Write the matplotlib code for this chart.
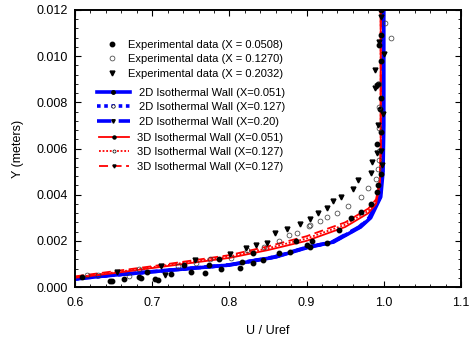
import numpy as np
import matplotlib.pyplot as plt
from matplotlib.lines import Line2D
from matplotlib.ticker import MultipleLocator

plt.rcParams['font.family'] = ['Liberation Sans', 'DejaVu Sans']

# experimental data, X = 0.0508 (filled circles)
exp1_u = [0.609, 0.645, 0.648, 0.663, 0.683, 0.686, 0.693, 0.704, 0.707, 0.725, 0.741,
          0.750, 0.769, 0.773, 0.789, 0.787, 0.814, 0.816, 0.830, 0.831, 0.844, 0.864,
          0.878, 0.886, 0.901, 0.907, 0.905, 0.927, 0.942, 0.957, 0.971, 0.983, 0.991,
          0.993, 0.996, 0.991, 0.996, 0.995, 0.997, 0.992, 0.996, 0.994, 0.996, 0.997]
exp1_y = [0.00045, 0.00025, 0.00028, 0.00035, 0.00042, 0.00038, 0.00066, 0.00035, 0.00032,
          0.00056, 0.00095, 0.00065, 0.00062, 0.00095, 0.00077, 0.00120, 0.00084, 0.00110,
          0.00106, 0.00147, 0.00117, 0.00147, 0.00153, 0.00200, 0.00180, 0.00200, 0.00175,
          0.00192, 0.00247, 0.00298, 0.00326, 0.00360, 0.00410, 0.00440, 0.00490, 0.00620,
          0.00670, 0.00770, 0.00820, 0.00880, 0.00980, 0.01050, 0.01090, 0.01200]

# experimental data, X = 0.1270 (open circles)
exp2_u = [0.615, 0.630, 0.670, 0.683, 0.733, 0.757, 0.775, 0.802, 0.823, 0.845, 0.864,
          0.877, 0.888, 0.903, 0.905, 0.917, 0.927, 0.940, 0.953, 0.970, 0.979, 0.990,
          0.992, 0.994, 0.994, 0.994, 0.994, 0.994, 1.002, 1.009]
exp2_y = [0.00050, 0.00050, 0.00048, 0.00080, 0.00090, 0.00105, 0.00120, 0.00126, 0.00160,
          0.00175, 0.00200, 0.00225, 0.00235, 0.00266, 0.00270, 0.00287, 0.00305, 0.00320,
          0.00350, 0.00390, 0.00430, 0.00470, 0.00510, 0.00550, 0.00590, 0.00690, 0.00780,
          0.00880, 0.01143, 0.01080]

# experimental data, X = 0.2032 (triangles)
exp3_u = [0.655, 0.711, 0.717, 0.755, 0.801, 0.821, 0.834, 0.849, 0.859, 0.874, 0.891,
          0.904, 0.915, 0.926, 0.934, 0.944, 0.960, 0.967, 0.984, 0.985, 0.991, 0.996,
          0.998, 0.992, 0.999, 0.988, 0.991, 0.988, 1.000, 0.994, 0.996]
exp3_y = [0.00066, 0.00090, 0.00050, 0.00117, 0.00143, 0.00168, 0.00180, 0.00192, 0.00235,
          0.00250, 0.00273, 0.00293, 0.00320, 0.00342, 0.00373, 0.00390, 0.00424, 0.00464,
          0.00495, 0.00543, 0.00582, 0.00590, 0.00530, 0.00700, 0.00750, 0.00860, 0.00870,
          0.00940, 0.01010, 0.01060, 0.01170]

# 2D isothermal wall (blue)
y2d = [0.00035, 0.0005, 0.00066, 0.00095, 0.0013, 0.0017, 0.00195, 0.0026, 0.0030,
       0.0039, 0.0050, 0.0070, 0.0090, 0.0120]
u2d_051 = [0.600, 0.645, 0.700, 0.800, 0.860, 0.900, 0.935, 0.970, 0.983, 0.996, 0.999, 1.000, 1.000, 1.000]
u2d_127 = [0.600, 0.644, 0.699, 0.799, 0.859, 0.899, 0.934, 0.969, 0.982, 0.995, 0.998, 0.999, 0.999, 0.999]
u2d_20 = [0.600, 0.643, 0.698, 0.798, 0.858, 0.898, 0.933, 0.968, 0.981, 0.995, 0.998, 0.999, 0.999, 0.999]

# 3D isothermal wall (red)
y3d = [0.0004, 0.0006, 0.00082, 0.00126, 0.0016, 0.0020, 0.0026, 0.0032, 0.0036,
       0.0045, 0.0060, 0.0080, 0.0100, 0.0120]
u3d_051 = [0.600, 0.650, 0.700, 0.800, 0.850, 0.900, 0.950, 0.980, 0.990, 0.995, 0.996, 0.996, 0.996, 0.996]
y3d_127 = [0.00042, 0.00063, 0.00086, 0.00132, 0.00168, 0.0021, 0.0027, 0.0033, 0.0037,
           0.0046, 0.0060, 0.0080, 0.0100, 0.0120]
y3d_127b = [0.00046, 0.00068, 0.0009, 0.00138, 0.00176, 0.0022, 0.0028, 0.0034, 0.0038,
            0.0047, 0.0060, 0.0080, 0.0100, 0.0120]

fig = plt.figure(figsize=(4.71, 3.40), dpi=100)
ax = fig.add_axes([75 / 471, 1 - 287 / 340, 386 / 471, 277 / 340])

blue = '#0000ff'
red = '#ff0000'
ax.plot(u2d_051, y2d, color=blue, lw=2.6, ls='-', solid_capstyle='butt')
ax.plot(u2d_127, y2d, color=blue, lw=2.6, ls=(0, (1, 1)))
ax.plot(u2d_20, y2d, color=blue, lw=2.6, ls=(0, (4, 2)))
ax.plot(u3d_051, y3d, color=red, lw=1.3, ls='-')
ax.plot(u3d_051, y3d_127, color=red, lw=1.3, ls=(0, (1, 1)))
ax.plot(u3d_051, y3d_127b, color=red, lw=1.3, ls=(0, (5, 2.5)))

ax.plot(exp1_u, exp1_y, 'o', color='black', ms=3.2, ls='none')
ax.plot(exp2_u, exp2_y, 'o', mfc='none', mec='#333333', mew=0.5, ms=3.5, ls='none')
ax.plot(exp3_u, exp3_y, 'v', color='black', ms=3.5, ls='none')

ax.set_xlim(0.6, 1.1)
ax.set_ylim(0.0, 0.012)
ax.xaxis.set_minor_locator(MultipleLocator(0.02))
ax.yaxis.set_minor_locator(MultipleLocator(0.0004))
ax.set_xticks(np.arange(0.6, 1.11, 0.1))
ax.set_xticklabels(['0.6', '0.7', '0.8', '0.9', '1.0', '1.1'])
ax.set_yticks(np.arange(0, 0.0121, 0.002))
ax.set_yticklabels(['0.000', '0.002', '0.004', '0.006', '0.008', '0.010', '0.012'])
ax.tick_params(which='both', direction='in', top=True, right=True, labelsize=9)
ax.tick_params(axis='x', pad=7)
ax.tick_params(axis='y', pad=5)
ax.tick_params(which='major', length=4, width=0.8)
ax.tick_params(which='minor', length=2, width=0.6)
for s in ax.spines.values():
    s.set_linewidth(1.4)
ax.set_xlabel('U / Uref', fontsize=9, labelpad=12)
ax.set_ylabel('Y (meters)', fontsize=9, labelpad=9)

lk = dict(frameon=False, fontsize=8, borderpad=0, labelspacing=0.42,
          handletextpad=0.8, loc='upper left')
h1 = [Line2D([], [], marker='o', color='black', ls='none', ms=3.2),
      Line2D([], [], marker='o', mfc='none', mec='#333333', mew=0.5, ls='none', ms=3.5),
      Line2D([], [], marker='v', color='black', ls='none', ms=3.5)]
l1 = ax.legend(h1, ['Experimental data (X = 0.0508)', 'Experimental data (X = 0.1270)',
                    'Experimental data (X = 0.2032)'],
               bbox_to_anchor=(100 / 471, 1 - 34 / 340), bbox_transform=fig.transFigure,
               handlelength=1.2, **lk)
ax.add_artist(l1)
h2 = [Line2D([], [], color=blue, lw=2.6, ls='-', marker='o', ms=2.5, mfc='black', mec='black'),
      Line2D([], [], color=blue, lw=2.6, ls=(0, (1, 1)), marker='o', ms=2.5, mfc='white', mec='black', mew=0.5),
      Line2D([], [], color=blue, lw=2.6, ls=(0, (4, 2)), marker='v', ms=2.5, mfc='black', mec='black')]
l2 = ax.legend(h2, ['2D Isothermal Wall (X=0.051)', '2D Isothermal Wall (X=0.127)',
                    '2D Isothermal Wall (X=0.20)'],
               bbox_to_anchor=(91 / 471, 1 - 82 / 340), bbox_transform=fig.transFigure,
               handlelength=3.0, **lk)
ax.add_artist(l2)
h3 = [Line2D([], [], color=red, lw=1.3, ls='-', marker='o', ms=2.2, mfc='black', mec='black'),
      Line2D([], [], color=red, lw=1.3, ls=(0, (1, 1)), marker='o', ms=2.2, mfc='white', mec='black', mew=0.5),
      Line2D([], [], color=red, lw=1.3, ls=(0, (5, 2.5)), marker='v', ms=2.2, mfc='black', mec='black')]
l3 = ax.legend(h3, ['3D Isothermal Wall (X=0.051)', '3D Isothermal Wall (X=0.127)',
                    '3D Isothermal Wall (X=0.127)'],
               bbox_to_anchor=(93 / 471, 1 - 127 / 340), bbox_transform=fig.transFigure,
               handlelength=2.7, **lk)

fig.savefig('out.png', dpi=100)
